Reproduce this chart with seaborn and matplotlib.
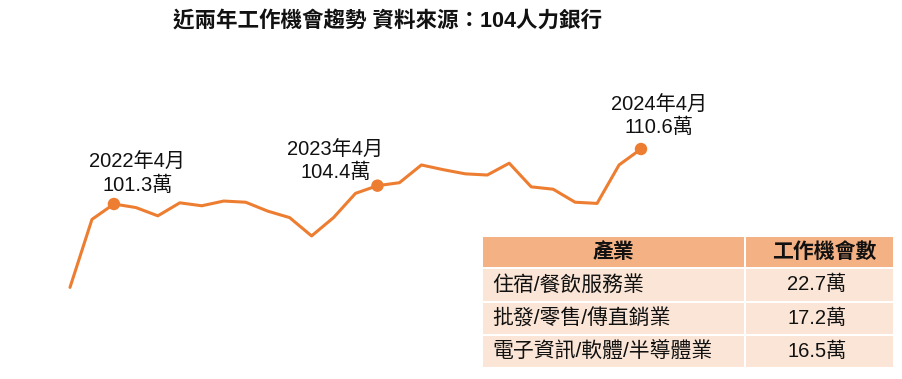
import matplotlib
matplotlib.use("Agg")
import matplotlib.pyplot as plt
import seaborn as sns
import pandas as pd
from matplotlib.patches import Rectangle

# ---- data ----
months = ["2022-02", "2022-03", "2022-04", "2022-05", "2022-06", "2022-07", "2022-08",
          "2022-09", "2022-10", "2022-11", "2022-12", "2023-01", "2023-02", "2023-03",
          "2023-04", "2023-05", "2023-06", "2023-07", "2023-08", "2023-09", "2023-10",
          "2023-11", "2023-12", "2024-01", "2024-02", "2024-03", "2024-04"]
jobs = [87.2, 98.7, 101.3, 100.7, 99.3, 101.5, 101.0, 101.8, 101.6, 100.1, 99.0,
        95.9, 99.0, 103.1, 104.4, 104.9, 107.9, 107.1, 106.4, 106.2, 108.2,
        104.2, 103.8, 101.6, 101.4, 107.9, 110.6]
highlight_months = ["2022-04", "2023-04", "2024-04"]
highlight_labels = ["2022年4月\n101.3萬", "2023年4月\n104.4萬", "2024年4月\n110.6萬"]

table_header = ["產業", "工作機會數"]
industries = ["住宿/餐飲服務業", "批發/零售/傳直銷業", "電子資訊/軟體/半導體業"]
industry_jobs = ["22.7萬", "17.2萬", "16.5萬"]

title = "近兩年工作機會趨勢 資料來源：104人力銀行"

# ---- style ----
sns.set_theme(style="white")
plt.rcParams['font.family'] = ['Liberation Sans', 'Noto Sans CJK TC', 'DejaVu Sans']

W, H = 903, 379
fig = plt.figure(figsize=(W / 100, H / 100), dpi=100)
fig.patch.set_facecolor("white")

ORANGE = "#ED7D31"

df = pd.DataFrame({"month": months, "jobs": jobs})
df["i"] = range(len(df))
hl = df[df["month"].isin(highlight_months)].reset_index(drop=True)

ax = fig.add_axes([0, 0, 1, 1])
sns.lineplot(data=df, x="i", y="jobs", ax=ax, color=ORANGE, linewidth=2.2)
sns.scatterplot(data=hl, x="i", y="jobs", ax=ax, color=ORANGE, s=80, edgecolor="none", zorder=5)

# map data to pixel-like placement
px_per_i = (641 - 70) / 26
ax.set_xlim(0 - 70 / px_per_i, 26 + (W - 641) / px_per_i)
vpp = (110.6 - 101.3) / (204 - 149)
ax.set_ylim(110.6 - (H - 149) * vpp, 110.6 + 149 * vpp)
ax.axis("off")

offsets = [(23.5, 30), (-42, 24), (18, 32.5)]
for k, row in hl.iterrows():
    ax.annotate(highlight_labels[k], (row["i"], row["jobs"]),
                xytext=offsets[k], textcoords="offset pixels",
                ha="center", va="center", fontsize=14.5, color="#111111",
                linespacing=1.2)

# title
fig.text(387.5 / W, 1 - 21.5 / H, title, ha="center", va="center", fontsize=15.5,
         fontweight="bold", color="#111111")

# ---- table (in pixel coordinates) ----
tax = fig.add_axes([0, 0, 1, 1], facecolor="none")
tax.set_xlim(0, W)
tax.set_ylim(H, 0)
tax.axis("off")

col_x = [(483, 744.5), (746, 893)]
row_y = [(237, 266.5), (269, 300.5), (302.5, 334), (336, 367)]
HEAD = "#F4B183"
BODY = "#FBE5D6"
for r, (y0, y1) in enumerate(row_y):
    for c, (x0, x1) in enumerate(col_x):
        tax.add_patch(Rectangle((x0, y0), x1 - x0, y1 - y0,
                                facecolor=HEAD if r == 0 else BODY, edgecolor="none"))

for c, (x0, x1) in enumerate(col_x):
    tax.text((x0 + x1) / 2 + (5 if c == 1 else 0), (row_y[0][0] + row_y[0][1]) / 2,
             table_header[c], ha="center", va="center", fontsize=15, fontweight="bold",
             color="#111111")
for r in range(3):
    y0, y1 = row_y[r + 1]
    yc = (y0 + y1) / 2
    tax.text(492, yc, industries[r], ha="left", va="center", fontsize=15, color="#111111")
    tax.text(817, yc, industry_jobs[r], ha="center", va="center", fontsize=14.5,
             color="#111111")

fig.savefig("out.png", dpi=100, facecolor="white")
